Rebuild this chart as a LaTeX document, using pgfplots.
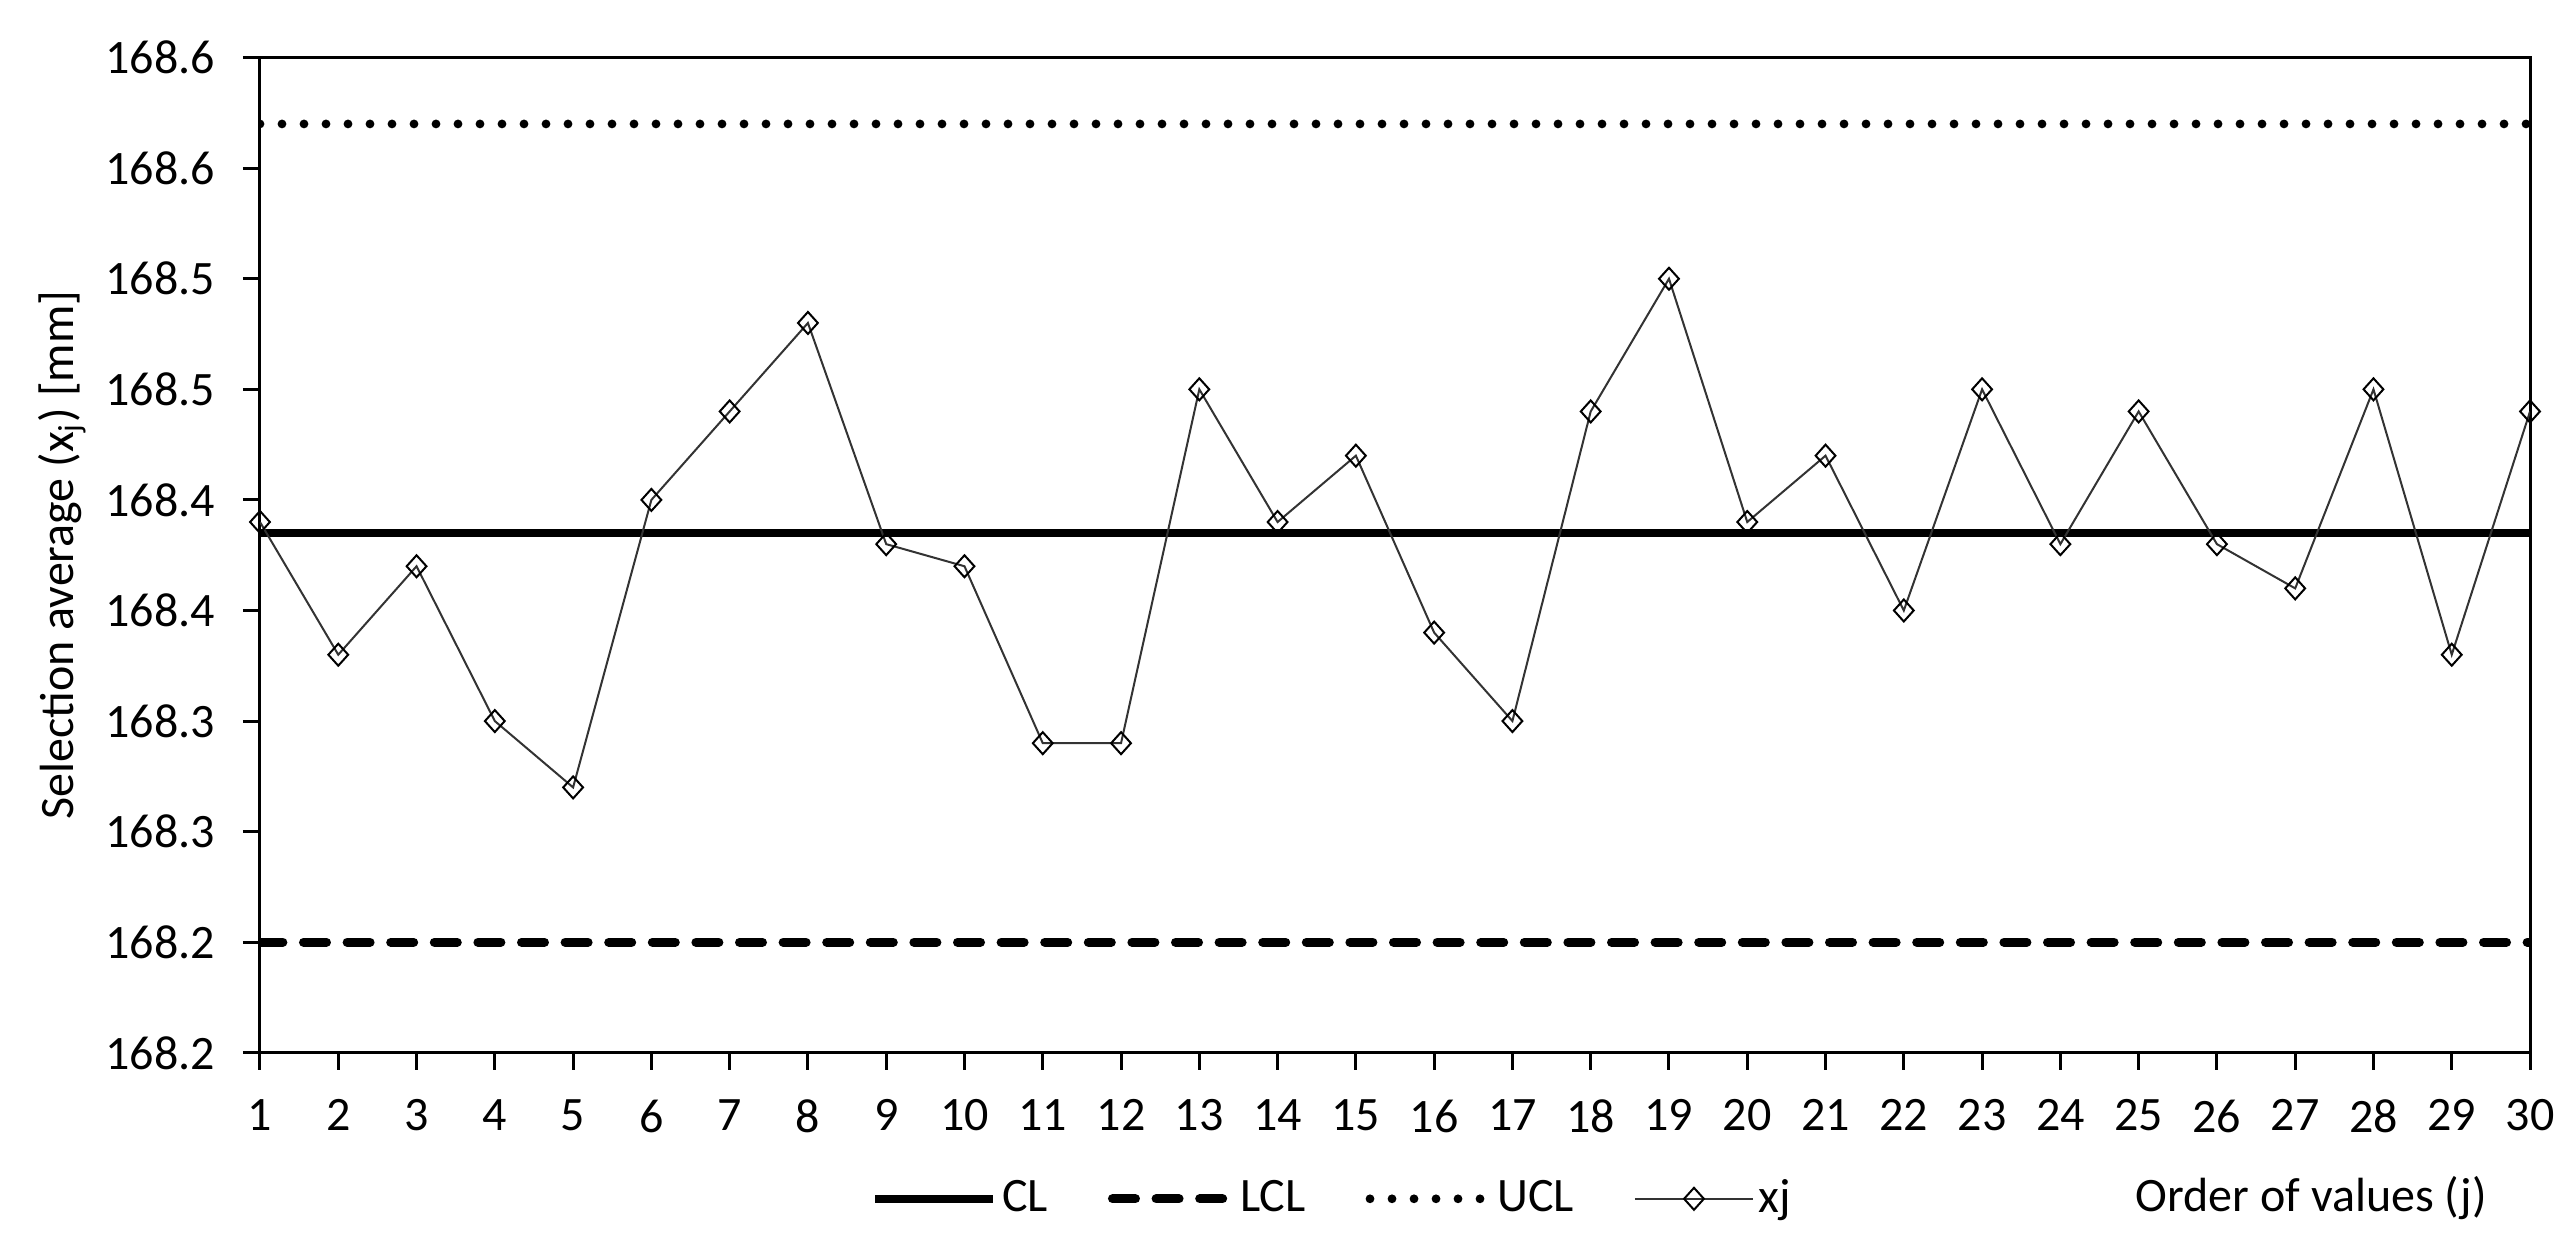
\documentclass[border=0pt]{standalone}
\usepackage{fontspec}
\setmainfont{Carlito}
\usepackage{pgfplots}
\usepackage{pgfplotstable}
\pgfplotsset{compat=1.18}
\pgfplotsset{
  lineleg/.style={legend image code/.code={\draw[##1] (0pt,0pt) -- (29.5pt,0pt);}},
  markleg/.style={legend image code/.code={\draw[##1, mark repeat=2, mark phase=2] plot coordinates {(0pt,0pt) (14.75pt,0pt) (29.5pt,0pt)};}},
}
\pgfplotstableread{
j xj
1 168.39
2 168.33
3 168.37
4 168.30
5 168.27
6 168.40
7 168.44
8 168.48
9 168.38
10 168.37
11 168.29
12 168.29
13 168.45
14 168.39
15 168.42
16 168.34
17 168.30
18 168.44
19 168.50
20 168.39
21 168.42
22 168.35
23 168.45
24 168.38
25 168.44
26 168.38
27 168.36
28 168.45
29 168.33
30 168.44
}\xjdata
\begin{document}
\begin{tikzpicture}[font=\fontsize{12}{14.4}\selectfont]
\path[use as bounding box] (-65pt,-47.05pt) rectangle (579pt,263.2pt);
\begin{axis}[
  scale only axis, width=567.5pt, height=248.8pt,
  xmin=1, xmax=30, ymin=168.15, ymax=168.60,
  xtick={1,...,30},
  ytick={168.15,168.2,168.25,168.3,168.35,168.4,168.45,168.5,168.55,168.6},
  yticklabels={168.2,168.2,168.3,168.3,168.4,168.4,168.5,168.5,168.6,168.6},
  /pgf/number format/assume math mode=true,
  tick pos=left, tick align=outside, major tick length=4.25pt,
  tick style={black, line width=0.75pt},
  axis line style={black, line width=0.75pt},
  yticklabel style={xshift=-3.5pt},
  xticklabel style={yshift=-4pt},
  ylabel={Selection average (x\textsubscript{j}) [mm]},
  ylabel style={at={(axis description cs:0,0.5)}, anchor=north, yshift=59pt},
  xlabel={Order of values (j)},
  xlabel style={at={(axis description cs:1,0)}, anchor=base east, xshift=-7.25pt, yshift=-39.7pt},
  legend columns=4,
  legend style={draw=none, fill=none, at={(axis description cs:0,0)}, anchor=west,
    xshift=152.5pt, yshift=-36.5pt, inner sep=0pt, nodes={inner sep=1.25pt},
    /tikz/every even column/.append style={column sep=13.75pt}},
]
\addplot[black, line width=2.1pt, lineleg]
  coordinates {(1,168.385) (30,168.385)};
\addlegendentry{CL}
\addplot[black, line width=2.3pt, line cap=round, dash pattern=on 5.7pt off 5.2pt, lineleg]
  coordinates {(1,168.20) (30,168.20)};
\addlegendentry{LCL}
\addplot[black, line width=2.2pt, line cap=round, dash pattern=on 0pt off 5.5pt, lineleg]
  coordinates {(1,168.57) (30,168.57)};
\addlegendentry{UCL}
\addplot[black!80, line width=0.5pt, mark=diamond, mark size=2.75pt,
  mark options={solid, fill=white, draw=black, line width=0.5pt, xscale=1.2}, markleg]
  table[x=j, y=xj] {\xjdata};
\addlegendentry{xj}
\end{axis}
\end{tikzpicture}
\end{document}
